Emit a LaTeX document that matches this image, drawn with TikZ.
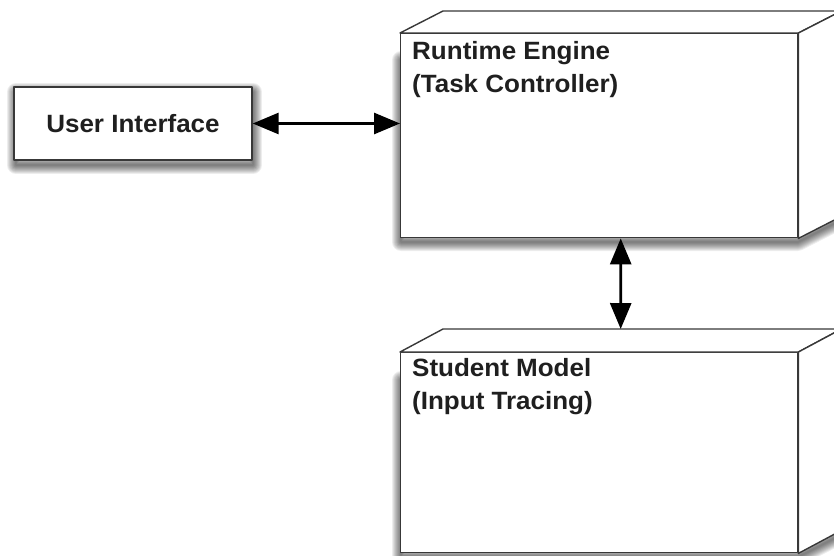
\documentclass[tikz,border=0pt]{standalone}
\usepackage{fontspec}
\setmainfont{Liberation Sans}[FakeStretch=1.04]
\usetikzlibrary{calc,arrows.meta}
\tikzset{
  face/.style={draw=black!78, line width=1.4pt, fill=white, inner sep=0pt, line join=round},
  side/.style={draw=black!78, line width=1.4pt, fill=white, line join=round},
  lbl/.style={font=\bfseries\fontsize{25}{33}\selectfont, align=left, inner sep=0pt, anchor=north west, text=black!88},
  conn/.style={line width=2.8pt, {Triangle[length=26pt,width=21pt]}-{Triangle[length=26pt,width=21pt]}},
  shade/.style={draw=black, opacity=0.07, line join=round, line cap=round}
}
\begin{document}
\begin{tikzpicture}[x=1pt,y=-1pt]
\useasboundingbox (0,0) rectangle (834,556);
\clip (0,0) rectangle (834,556);
\fill[white] (0,0) rectangle (834,556);

% ---------- shadows ----------
\foreach \k in {1,...,9}{
  \draw[shade, line width=2*\k pt] (16,92) rectangle (253,165);
  \draw[shade, line width=2*\k pt] (401,60) -- (401,242) -- (798,242) -- (841,220);
  \draw[shade, line width=2*\k pt] (401,380) -- (401,557) -- (798,557) -- (841,535);
}

% ---------- User Interface ----------
\node[face, minimum width=238pt, minimum height=73pt, font=\bfseries\fontsize{25}{30}\selectfont, text=black!88] (ui) at (133,123.5) {User Interface};

% ---------- Runtime Engine ----------
\node[face, minimum width=397pt, minimum height=204pt, anchor=north west] (rt) at (400,33) {};
\coordinate (rtbw) at ($(rt.north west)+(43,-22)$);
\coordinate (rtbe) at ($(rt.north east)+(43,-22)$);
\coordinate (rtbs) at ($(rt.south east)+(43,-22)$);
\draw[side] (rt.north west) -- (rtbw) -- (rtbe) -- (rt.north east) -- cycle;
\draw[side] (rt.north east) -- (rtbe) -- (rtbs) -- (rt.south east) -- cycle;
\node[lbl] (rtlabel) at (412,41) {Runtime Engine\\(Task Controller)};

% ---------- Student Model ----------
\node[face, minimum width=397pt, minimum height=200pt, anchor=north west] (sm) at (400,352) {};
\coordinate (smbw) at ($(sm.north west)+(43,-23)$);
\coordinate (smbe) at ($(sm.north east)+(43,-23)$);
\coordinate (smbs) at ($(sm.south east)+(43,-23)$);
\draw[side] (sm.north west) -- (smbw) -- (smbe) -- (sm.north east) -- cycle;
\draw[side] (sm.north east) -- (smbe) -- (smbs) -- (sm.south east) -- cycle;
\node[lbl] (smlabel) at (412,358) {Student Model\\(Input Tracing)};

% ---------- connectors ----------
\draw[conn] (ui.east) -- (ui.east -| rt.west);
\draw[conn] ($(rt.south west)!0.554!(rt.south east)$) -- ($(smbw)!0.446!(smbe)$);
\end{tikzpicture}
\end{document}
